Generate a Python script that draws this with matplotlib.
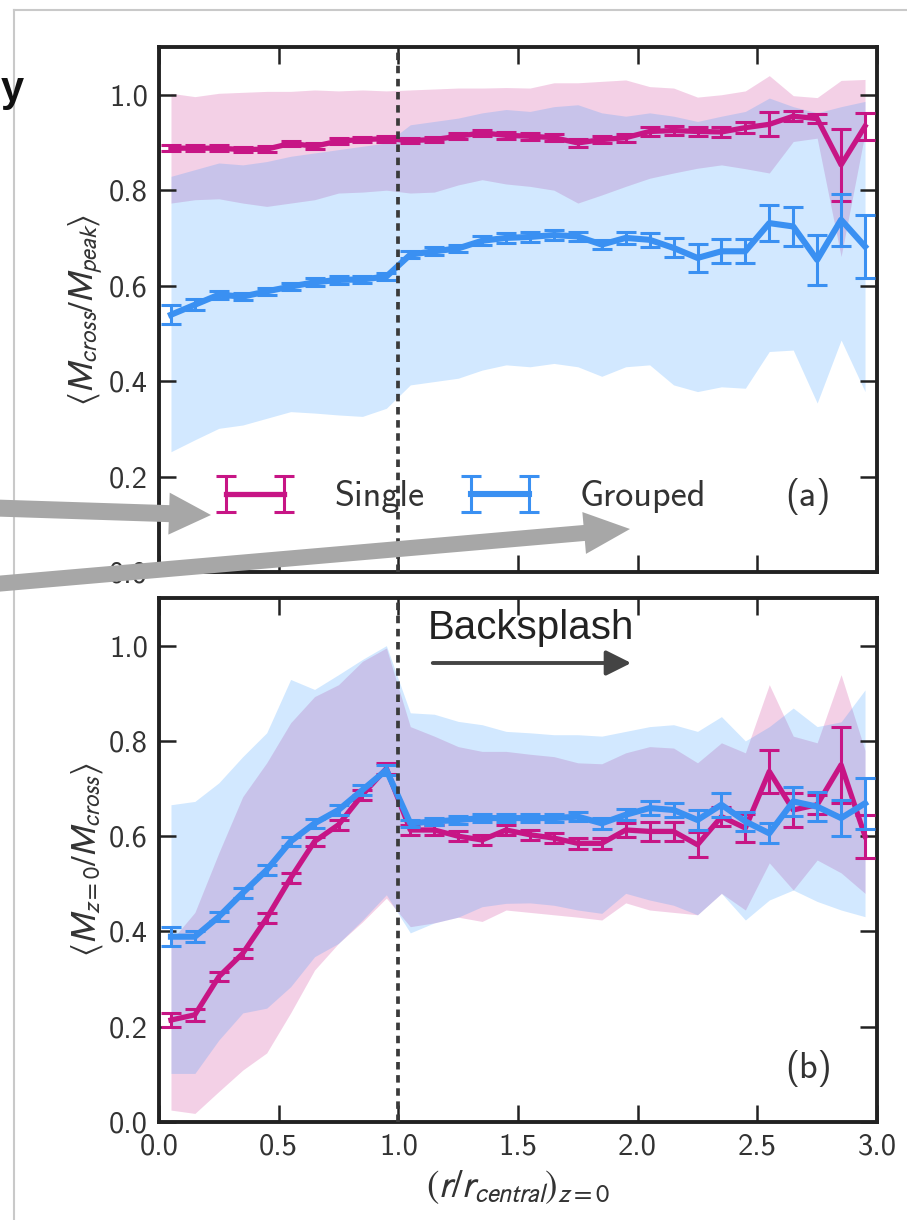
import numpy as np
import matplotlib
matplotlib.use("Agg")
import matplotlib.pyplot as plt
from matplotlib.patches import Polygon, FancyArrowPatch
from matplotlib.lines import Line2D

plt.rcParams['font.family'] = ['cmss10', 'DejaVu Sans']
plt.rcParams['mathtext.fontset'] = 'stixsans'
plt.rcParams['axes.unicode_minus'] = False

# radial bins, (r / r_central) at z = 0
r_bins = [0.05, 0.15, 0.25, 0.35, 0.45, 0.55, 0.65, 0.75, 0.85, 0.95,
          1.05, 1.15, 1.25, 1.35, 1.45, 1.55, 1.65, 1.75, 1.85, 1.95,
          2.05, 2.15, 2.25, 2.35, 2.45, 2.55, 2.65, 2.75, 2.85, 2.95]

# panel (a): <M_cross / M_peak>
single_a = [0.888, 0.888, 0.888, 0.885, 0.886, 0.898, 0.892, 0.903, 0.906, 0.908,
            0.904, 0.906, 0.913, 0.920, 0.915, 0.913, 0.910, 0.899, 0.906, 0.910,
            0.923, 0.925, 0.923, 0.922, 0.931, 0.938, 0.955, 0.950, 0.853, 0.934]
single_a_err = [0.006, 0.006, 0.006, 0.006, 0.006, 0.006, 0.006, 0.006, 0.006, 0.006,
                0.006, 0.006, 0.006, 0.006, 0.007, 0.007, 0.007, 0.008, 0.008, 0.008,
                0.009, 0.009, 0.010, 0.010, 0.012, 0.025, 0.010, 0.010, 0.075, 0.028]
single_a_lo = [0.773, 0.780, 0.782, 0.773, 0.766, 0.773, 0.780, 0.794, 0.796, 0.800,
               0.794, 0.796, 0.811, 0.822, 0.813, 0.808, 0.800, 0.773, 0.790, 0.808,
               0.825, 0.836, 0.846, 0.853, 0.845, 0.836, 0.902, 0.909, 0.661, 0.920]
single_a_hi = [1.003, 0.996, 1.003, 1.005, 1.007, 1.007, 1.010, 1.008, 1.010, 1.008,
               1.010, 1.012, 1.014, 1.014, 1.015, 1.014, 1.025, 1.025, 1.028, 1.031,
               1.017, 1.014, 0.995, 1.000, 1.008, 1.040, 0.998, 0.994, 1.030, 1.032]

grouped_a = [0.539, 0.560, 0.581, 0.577, 0.588, 0.598, 0.607, 0.612, 0.613, 0.619,
             0.665, 0.672, 0.678, 0.694, 0.700, 0.702, 0.706, 0.703, 0.686, 0.700,
             0.696, 0.679, 0.658, 0.672, 0.672, 0.731, 0.724, 0.654, 0.738, 0.682]
grouped_a_err = [0.020, 0.012, 0.008, 0.008, 0.008, 0.008, 0.008, 0.008, 0.008, 0.008,
                 0.008, 0.008, 0.008, 0.009, 0.010, 0.010, 0.010, 0.010, 0.010, 0.012,
                 0.015, 0.020, 0.030, 0.025, 0.025, 0.038, 0.040, 0.052, 0.054, 0.066]
grouped_a_lo = [0.252, 0.277, 0.301, 0.308, 0.322, 0.336, 0.333, 0.329, 0.326, 0.343,
                0.392, 0.399, 0.406, 0.423, 0.434, 0.430, 0.437, 0.430, 0.410, 0.430,
                0.434, 0.392, 0.378, 0.388, 0.385, 0.462, 0.465, 0.354, 0.486, 0.378]
grouped_a_hi = [0.829, 0.843, 0.857, 0.853, 0.860, 0.871, 0.878, 0.885, 0.892, 0.899,
                0.937, 0.944, 0.951, 0.962, 0.969, 0.965, 0.975, 0.979, 0.962, 0.955,
                0.962, 0.955, 0.944, 0.955, 0.965, 0.993, 0.975, 0.962, 0.975, 0.986]

# panel (b): <M_z=0 / M_cross>
single_b = [0.214, 0.225, 0.305, 0.354, 0.428, 0.512, 0.589, 0.624, 0.687, 0.742,
            0.613, 0.613, 0.600, 0.592, 0.613, 0.603, 0.596, 0.585, 0.585, 0.613,
            0.610, 0.610, 0.582, 0.641, 0.617, 0.736, 0.655, 0.666, 0.750, 0.600]
single_b_err = [0.015, 0.012, 0.010, 0.010, 0.010, 0.010, 0.010, 0.010, 0.010, 0.012,
                0.010, 0.010, 0.010, 0.010, 0.010, 0.010, 0.010, 0.012, 0.012, 0.015,
                0.020, 0.020, 0.026, 0.020, 0.030, 0.045, 0.035, 0.020, 0.080, 0.045]
single_b_lo = [0.025, 0.018, 0.064, 0.109, 0.145, 0.229, 0.319, 0.375, 0.420, 0.470,
               0.410, 0.418, 0.430, 0.421, 0.445, 0.440, 0.435, 0.430, 0.424, 0.460,
               0.445, 0.440, 0.435, 0.480, 0.445, 0.544, 0.487, 0.550, 0.523, 0.480]
single_b_hi = [0.380, 0.440, 0.565, 0.683, 0.754, 0.838, 0.893, 0.918, 0.967, 0.995,
               0.830, 0.810, 0.788, 0.778, 0.778, 0.772, 0.767, 0.754, 0.752, 0.775,
               0.788, 0.785, 0.754, 0.796, 0.775, 0.918, 0.810, 0.796, 0.939, 0.780]

grouped_b = [0.389, 0.389, 0.431, 0.481, 0.529, 0.589, 0.627, 0.655, 0.697, 0.739,
             0.627, 0.631, 0.634, 0.638, 0.638, 0.638, 0.638, 0.641, 0.627, 0.645,
             0.659, 0.655, 0.634, 0.666, 0.631, 0.606, 0.673, 0.662, 0.638, 0.669]
grouped_b_err = [0.020, 0.012, 0.010, 0.010, 0.010, 0.010, 0.010, 0.010, 0.010, 0.010,
                 0.008, 0.008, 0.008, 0.008, 0.008, 0.008, 0.008, 0.010, 0.012, 0.012,
                 0.015, 0.015, 0.020, 0.025, 0.020, 0.021, 0.030, 0.030, 0.038, 0.053]
grouped_b_lo = [0.102, 0.102, 0.172, 0.229, 0.239, 0.284, 0.347, 0.375, 0.424, 0.477,
                0.397, 0.418, 0.430, 0.452, 0.459, 0.460, 0.455, 0.445, 0.438, 0.480,
                0.466, 0.455, 0.435, 0.480, 0.424, 0.466, 0.487, 0.463, 0.445, 0.431]
grouped_b_hi = [0.666, 0.673, 0.712, 0.767, 0.817, 0.929, 0.908, 0.939, 0.971, 1.000,
                0.859, 0.856, 0.841, 0.834, 0.820, 0.817, 0.813, 0.813, 0.810, 0.820,
                0.830, 0.834, 0.820, 0.851, 0.800, 0.830, 0.869, 0.830, 0.840, 0.907]

x_ticks = [0.0, 0.5, 1.0, 1.5, 2.0, 2.5, 3.0]
y_ticks = [0.0, 0.2, 0.4, 0.6, 0.8, 1.0]
series_labels = ['Single', 'Grouped']

MAGENTA = '#C71585'
BLUE = '#3A90F2'
INK = '#333333'

W, H = 907, 1220
fig = plt.figure(figsize=(W / 100, H / 100), dpi=100)


def px(x, y):
    """Pixel position (origin top-left) to figure fraction."""
    return x / W, 1 - y / H


ax_a = fig.add_axes([159 / W, 1 - 572 / H, 718 / W, 525 / H])
ax_b = fig.add_axes([159 / W, 1 - 1122 / H, 718 / W, 524 / H])

panels = [
    (ax_a, single_a, single_a_err, single_a_lo, single_a_hi,
     grouped_a, grouped_a_err, grouped_a_lo, grouped_a_hi),
    (ax_b, single_b, single_b_err, single_b_lo, single_b_hi,
     grouped_b, grouped_b_err, grouped_b_lo, grouped_b_hi),
]

for (ax, s, s_err, s_lo, s_hi, g, g_err, g_lo, g_hi) in panels:
    ax.fill_between(r_bins, s_lo, s_hi, color=MAGENTA, alpha=0.2, lw=0, zorder=1)
    ax.fill_between(r_bins, g_lo, g_hi, color='#1E90FF', alpha=0.2, lw=0, zorder=1)
    ax.errorbar(r_bins, s, yerr=s_err, color=MAGENTA, lw=3.8, elinewidth=2.2,
                capsize=7, capthick=2.2, label=series_labels[0], zorder=3)
    ax.errorbar(r_bins, g, yerr=g_err, color=BLUE, lw=4.4, elinewidth=2.2,
                capsize=7, capthick=2.2, label=series_labels[1], zorder=4)
    ax.axvline(1.0, color='#3a3a3a', lw=2.7, ls=(0, (2.0, 1.5)), zorder=5)
    ax.set_xlim(0, 3)
    ax.set_ylim(0, 1.1)
    ax.set_xticks(x_ticks)
    ax.set_yticks(y_ticks)
    ax.set_xticklabels([f'{t:.1f}' for t in x_ticks])
    ax.set_yticklabels([f'{t:.1f}' for t in y_ticks])
    ax.tick_params(direction='in', length=12, width=1.8, top=True, right=True,
                   labelsize=22, labelcolor=INK, color='#222222', pad=8)
    for sp in ax.spines.values():
        sp.set_linewidth(2.8)
        sp.set_color('#222222')

ax_a.tick_params(labelbottom=False)

ax_a.set_ylabel(r'$\langle M_{cross}/M_{peak}\rangle$', fontsize=25, color=INK, labelpad=3)
ax_b.set_ylabel(r'$\langle M_{z=0}/M_{cross}\rangle$', fontsize=25, color=INK, labelpad=3)
ax_b.set_xlabel(r'$\left(r/r_{central}\right)_{z=0}$', fontsize=27, color=INK, labelpad=6)

leg = ax_a.legend(loc='center left', bbox_to_anchor=(0.078, 0.143), ncol=2, numpoints=2,
                  frameon=False, fontsize=26, handlelength=2.2, handletextpad=1.1,
                  columnspacing=1.0, borderpad=0, borderaxespad=0)
for t in leg.get_texts():
    t.set_color(INK)

ax_a.text(0.904, 0.143, '(a)', transform=ax_a.transAxes, fontsize=26,
          color=INK, ha='center', va='center')
ax_b.text(0.904, 0.103, '(b)', transform=ax_b.transAxes, fontsize=26,
          color=INK, ha='center', va='center')

# "Backsplash" annotation with its arrow
fig.text(*px(428, 628), 'Backsplash', fontsize=29, family='Liberation Sans',
         color='#222222', ha='left', va='center')
fig.add_artist(FancyArrowPatch(px(430, 663), px(634, 663), transform=fig.transFigure,
                               arrowstyle='-|>,head_length=0.9,head_width=0.45',
                               mutation_scale=17, lw=2.8, color='#444444', zorder=20))


def block_arrow(x0, y0, x1, y1, shaft_w, head_w, head_l):
    """Flat block arrow in pixel units (origin top-left)."""
    p0 = np.array([x0, y0], float)
    p1 = np.array([x1, y1], float)
    d = p1 - p0
    d /= np.hypot(*d)
    n = np.array([-d[1], d[0]])
    base = p1 - d * head_l
    pts = [p0 + n * shaft_w / 2, base + n * shaft_w / 2, base + n * head_w / 2, p1,
           base - n * head_w / 2, base - n * shaft_w / 2, p0 - n * shaft_w / 2]
    pts = [px(*p) for p in pts]
    fig.add_artist(Polygon(pts, closed=True, transform=fig.transFigure,
                           facecolor='#a7a7a7', edgecolor='none', zorder=30))


block_arrow(-5, 508, 211, 515, 17, 42, 42)
block_arrow(-5, 584, 630, 529, 16, 42, 46)

# page frame around the figure
fig.add_artist(Line2D([px(14, 0)[0], 1], [px(0, 10)[1]] * 2, transform=fig.transFigure,
                      color='#c9c9c9', lw=1.5))
fig.add_artist(Line2D([px(14, 0)[0]] * 2, [px(0, 10)[1], 0], transform=fig.transFigure,
                      color='#c9c9c9', lw=1.5))
fig.text(*px(1, 90), 'y', fontsize=30, family='Liberation Sans', weight='bold',
         color='#111111', ha='left', va='center')

fig.savefig('out.png', dpi=100)
